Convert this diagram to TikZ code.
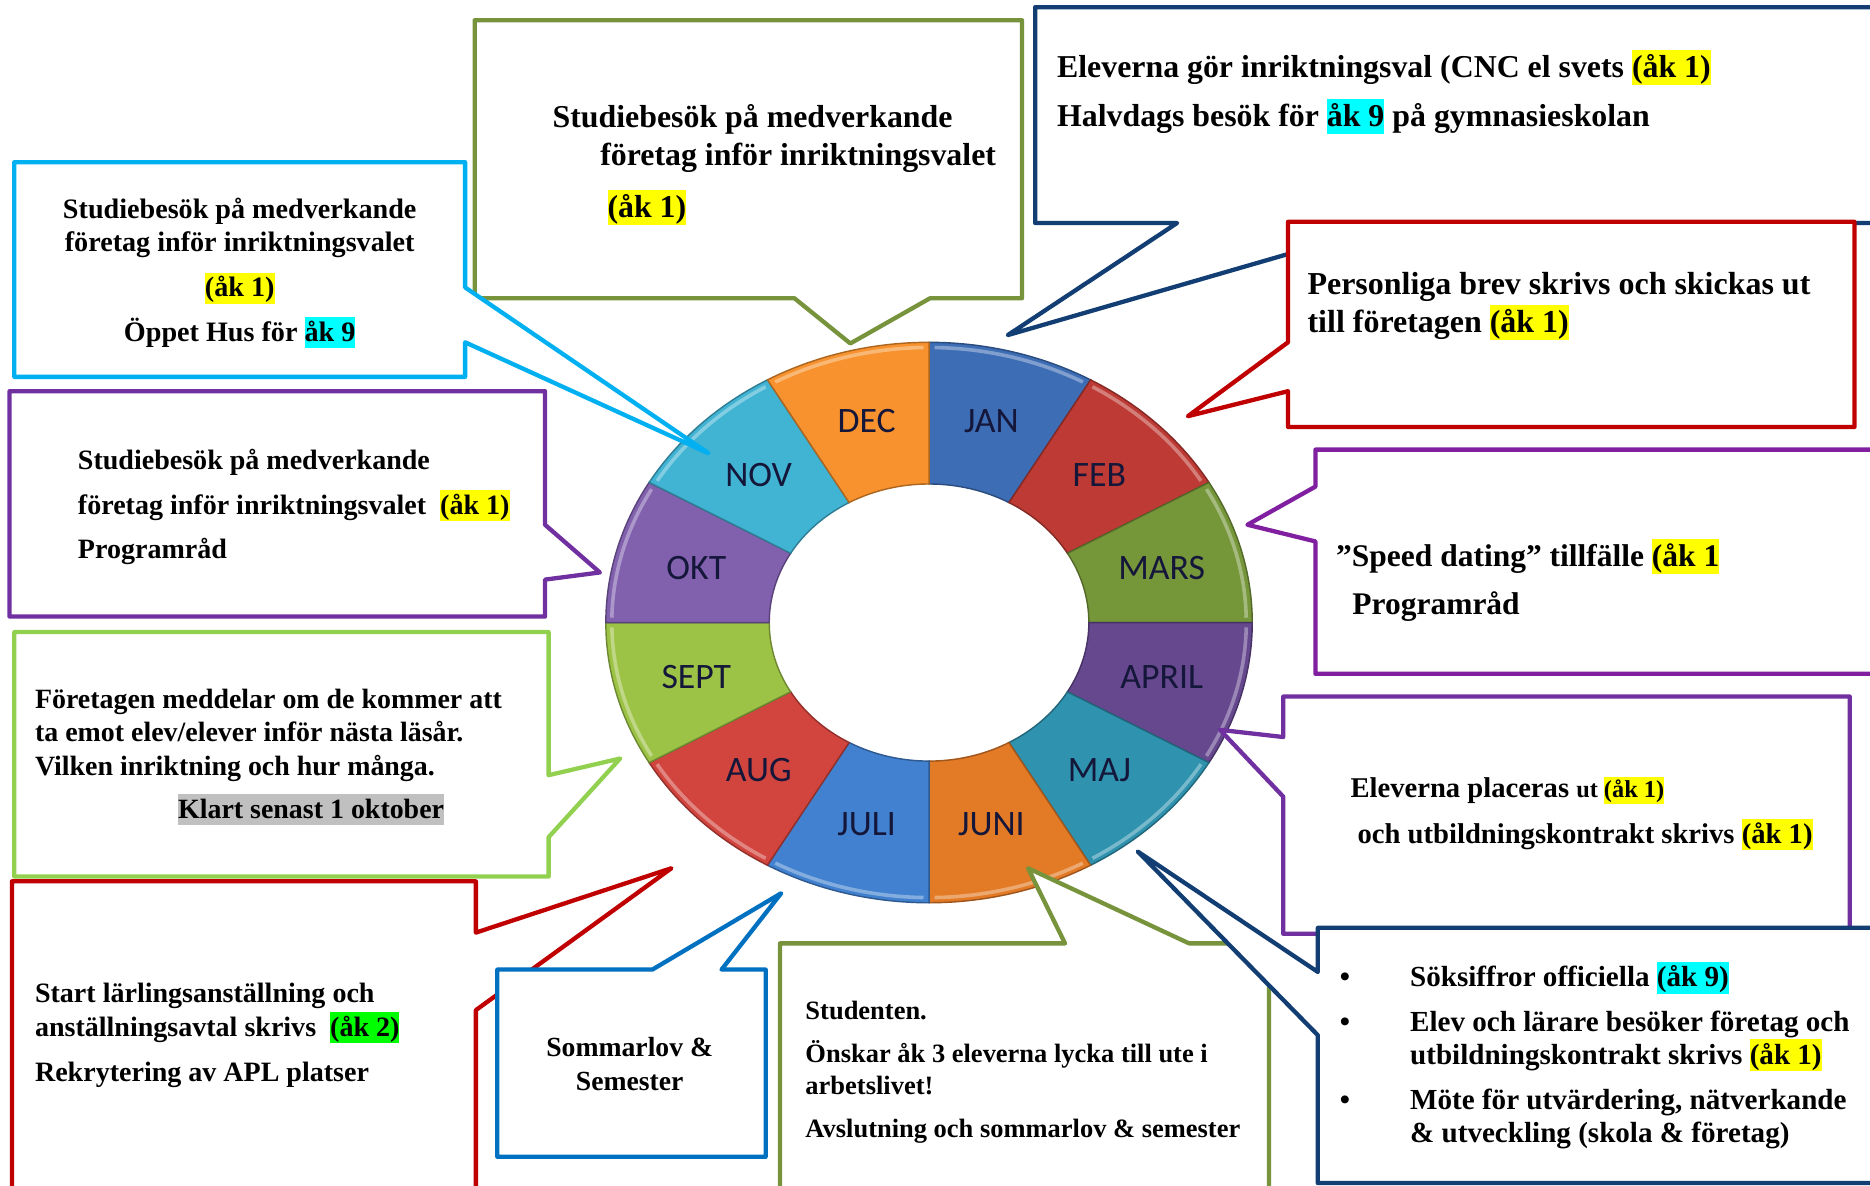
\documentclass[tikz,border=0pt]{standalone}
\usepackage{fontspec}
\setmainfont{Liberation Serif}
\newfontfamily\monthfont{Carlito}
\usepackage{tikz}

\definecolor{boxcyan}{HTML}{00B0F0}
\definecolor{boxolive}{HTML}{77933C}
\definecolor{boxnavy}{HTML}{123E73}
\definecolor{boxred}{HTML}{C00000}
\definecolor{boxpurple}{HTML}{7030A0}
\definecolor{boxviolet}{HTML}{8020A0}
\definecolor{boxgreen}{HTML}{92D050}
\definecolor{boxblue}{HTML}{0070C0}
\definecolor{hlyellow}{HTML}{FFFF00}
\definecolor{hlcyan}{HTML}{00FFFF}
\definecolor{hlgreen}{HTML}{00FF00}
\definecolor{hlgray}{HTML}{C0C0C0}
\definecolor{monthtext}{HTML}{15173A}
\definecolor{janc}{HTML}{3D6DB4}
\definecolor{febc}{HTML}{BE3A34}
\definecolor{marsc}{HTML}{76963A}
\definecolor{aprilc}{HTML}{66488F}
\definecolor{majc}{HTML}{2F92AE}
\definecolor{junic}{HTML}{E37A26}
\definecolor{julic}{HTML}{4181CF}
\definecolor{augc}{HTML}{D2443E}
\definecolor{septc}{HTML}{9DC346}
\definecolor{oktc}{HTML}{8160AE}
\definecolor{novc}{HTML}{41B3D3}
\definecolor{decc}{HTML}{F7922E}

\newcommand{\hl}[2]{{\setlength{\fboxsep}{0pt}\colorbox{#1}{\rule[-0.24em]{0pt}{1.1em}#2}}}

\begin{document}
\begin{tikzpicture}[x=0.5pt,y=-0.5pt,
    callout/.style={draw=#1,fill=white,line width=1.8pt,line join=round},
    txt/.style={anchor=base west,inner sep=0pt,align=left}]
\useasboundingbox (0,0) rectangle (1568,994);
\clip (0,0) rectangle (1568,994);

% the year as a ring
\begin{scope}[shift={(779,522)},yscale=-0.867]
  \foreach \m/\c [count=\i] in {JAN/janc,FEB/febc,MARS/marsc,APRIL/aprilc,MAJ/majc,JUNI/junic,
      JULI/julic,AUG/augc,SEPT/septc,OKT/oktc,NOV/novc,DEC/decc}{
    \pgfmathsetmacro\a{120-30*\i}
    \pgfmathsetmacro\b{\a-30}
    \pgfmathsetmacro\h{\a-15}
    \draw[fill=\c,draw=\c!70!black,line width=0.6pt] (\a:271) arc[start angle=\a,end angle=\b,radius=271]
      -- (\b:134) arc[start angle=\b,end angle=\a,radius=134] -- cycle;
    \draw[white,opacity=0.35,line width=1.5pt] (\a-1:266) arc[start angle=\a-1,end angle=\b+1,radius=266];
    \node[font=\monthfont\fontsize{15}{18}\selectfont,text=monthtext] (m\m) at (\h:202) {\m};
  }
\end{scope}

\coordinate (tipDEC) at (713,288);
\coordinate (tipNOV) at (594,380);
\coordinate (tipOKT) at (503,480);
\coordinate (tipSEPT) at (520,636);
\coordinate (tipAUG) at (563,728);
\coordinate (tipJULI) at (655,749);
\coordinate (tipJUNI) at (862,728);
\coordinate (tipMAJ) at (954,714);
\coordinate (tipAPRIL) at (1023,612);
\coordinate (tipMARS) at (1046,440);
\coordinate (tipFEB) at (996,349);
\coordinate (tipJAN) at (845,281);

% december
\draw[callout=boxolive] (398,17) -- (857,17) -- (857,250) -- (780,250) -- (tipDEC) -- (666,250) -- (398,250) -- cycle;
\node[txt,font=\bfseries\fontsize{13.35}{16}\selectfont] (tDEC) at (463,182)
  {Studiebesök på medverkande\\\hspace*{20pt}företag inför inriktningsvalet\\[5.5pt]\hspace*{23pt}\hl{hlyellow}{(åk 1)}};

% november
\draw[callout=boxcyan] (12,136) -- (390,136) -- (390,241) -- (tipNOV) -- (390,287) -- (390,316) -- (12,316) -- cycle;
\node[txt,anchor=base,align=center,font=\bfseries\fontsize{11.8}{14}\selectfont] (tNOV) at (201,286)
  {Studiebesök på medverkande\\företag inför inriktningsvalet\\[5pt]\hl{hlyellow}{(åk 1)}\\[4.5pt]Öppet Hus för \hl{hlcyan}{åk 9}};

% oktober
\draw[callout=boxpurple] (8,328) -- (457,328) -- (457,440) -- (tipOKT) -- (457,486) -- (457,517) -- (8,517) -- cycle;
\node[txt,font=\bfseries\fontsize{11.75}{18.5}\selectfont] (tOKT) at (65,468)
  {Studiebesök på medverkande\\företag inför inriktningsvalet\ \ \hl{hlyellow}{(åk 1)}\\Programråd};

% september
\draw[callout=boxgreen] (12,530) -- (460,530) -- (460,650) -- (tipSEPT) -- (460,702) -- (460,735) -- (12,735) -- cycle;
\node[txt,font=\bfseries\fontsize{11.7}{14}\selectfont] (tSEPT) at (29,686)
  {Företagen meddelar om de kommer att\\ta emot elev/elever inför nästa läsår.\\Vilken inriktning och hur många.\\[4pt]\hspace*{60pt}\hl{hlgray}{Klart senast 1 oktober}};

% augusti
\draw[callout=boxred] (10,739) -- (399,739) -- (399,782) -- (tipAUG) -- (399,847) -- (399,1010) -- (10,1010) -- cycle;
\node[txt,font=\bfseries\fontsize{11.75}{14}\selectfont] (tAUG) at (29,907)
  {Start lärlingsanställning och\\anställningsavtal skrivs\ \ \hl{hlgreen}{(åk 2)}\\[5pt]Rekrytering av APL platser};

% juli
\draw[callout=boxblue] (417,813) -- (547,813) -- (tipJULI) -- (605,813) -- (642,813) -- (642,970) -- (417,970) -- cycle;
\node[txt,anchor=base,align=center,font=\bfseries\fontsize{11.6}{14}\selectfont] (tJULI) at (528,914)
  {Sommarlov \&\\Semester};

% juni
\draw[callout=boxolive] (654,1010) -- (654,791) -- (893,791) -- (tipJUNI) -- (997,791) -- (1064,791) -- (1064,1010);
\node[txt,font=\bfseries\fontsize{11.1}{13.5}\selectfont] (tJUNI) at (675,954)
  {Studenten.\\[4.5pt]Önskar åk 3 eleverna lycka till ute i\\arbetslivet!\\[4.5pt]Avslutning och sommarlov \& semester};

% april
\draw[callout=boxpurple] (1076,584) -- (1551,584) -- (1551,783) -- (1076,783) -- (1076,668) -- (tipAPRIL) -- (1076,618) -- cycle;
\node[txt,font=\bfseries\fontsize{12}{19}\selectfont] (tAPRIL) at (1132,707)
  {Eleverna placeras {\fontsize{10.2}{12}\selectfont ut \hl{hlyellow}{(åk 1)}}\\\hspace*{3pt}och utbildningskontrakt skrivs \hl{hlyellow}{(åk 1)}};

% maj
\draw[callout=boxnavy] (1105,778) -- (1600,778) -- (1600,992) -- (1105,992) -- (1105,868) -- (tipMAJ) -- (1105,815) -- cycle;
\node[txt,font=\bfseries\fontsize{12.2}{14}\selectfont] (tMAJ) at (1123,958)
  {\makebox[29.5pt][l]{\textbullet}Söksiffror officiella \hl{hlcyan}{(åk 9)}\\[4.5pt]
   \makebox[29.5pt][l]{\textbullet}Elev och lärare besöker företag och\\
   \hspace*{29.5pt}utbildningskontrakt skrivs \hl{hlyellow}{(åk 1)}\\[4.75pt]
   \makebox[29.5pt][l]{\textbullet}Möte för utvärdering, nätverkande\\
   \hspace*{29.5pt}\& utveckling (skola \& företag)};

% mars
\draw[callout=boxviolet] (1103,377) -- (1600,377) -- (1600,565) -- (1103,565) -- (1103,454) -- (tipMARS) -- (1103,408) -- cycle;
\node[txt,font=\bfseries\fontsize{13.2}{20}\selectfont] (tMARS) at (1120,515)
  {”Speed dating” tillfälle \hl{hlyellow}{(åk 1}\\\hspace*{6.8pt}Programråd};

% januari
\draw[callout=boxnavy] (868,6) -- (1600,6) -- (1600,187) -- (1170,187) -- (tipJAN) -- (987,187) -- (868,187) -- cycle;
\node[txt,font=\bfseries\fontsize{13.35}{20.5}\selectfont] (tJAN) at (886,106)
  {Eleverna gör inriktningsval (CNC el svets \hl{hlyellow}{(åk 1)}\\Halvdags besök för \hl{hlcyan}{åk 9} på gymnasieskolan};

% februari
\draw[callout=boxred] (1080,186) -- (1555,186) -- (1555,358) -- (1080,358) -- (1080,328) -- (tipFEB) -- (1080,287) -- cycle;
\node[txt,font=\bfseries\fontsize{13.4}{16}\selectfont] (tFEB) at (1096,279)
  {Personliga brev skrivs och skickas ut\\till företagen \hl{hlyellow}{(åk 1)}};
\end{tikzpicture}
\end{document}
